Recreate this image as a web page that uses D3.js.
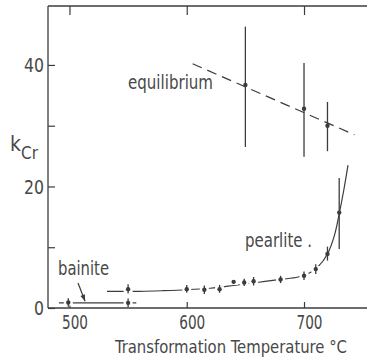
<!DOCTYPE html>
<html><head><meta charset="utf-8">
<script src="https://cdn.jsdelivr.net/npm/d3@7"></script>
<style>
html,body{margin:0;padding:0;background:#fff;}
text{font-family:"DejaVu Sans Condensed","DejaVu Sans",sans-serif;fill:#484848;}
</style></head>
<body><svg id="c" width="367" height="363"></svg>
<script>
// ---- data ----
const xTicks = [500, 600, 700];
const yTicks = [0, 10, 20, 30, 40];
const yTickLabels = [0, 20, 40];

const pearliteT    = [550, 600, 615, 628, 640, 649, 657, 680, 700, 710, 720, 730];
const pearliteK    = [3.1, 3.1, 3.0, 3.1, 4.3, 4.2, 4.4, 4.7, 5.3, 6.4, 8.9, 15.7];
const pearliteLow  = [2.4, 2.5, 2.3, 2.5, 4.3, 3.6, 3.7, 4.1, 4.6, 5.6, 7.8, 9.7];
const pearliteHigh = [3.9, 3.8, 3.7, 3.8, 4.3, 4.8, 5.1, 5.3, 6.0, 7.2, 10.1, 21.4];

const pearliteCurveT = [532, 560, 580, 600, 620, 640, 660, 680, 695, 705, 712, 720, 726, 730, 734, 737.5];
const pearliteCurveK = [2.75, 2.75, 2.85, 3.0, 3.25, 3.7, 4.2, 4.7, 5.1, 5.8, 6.8, 8.9, 12, 15.5, 19.5, 23.5];

const bainiteT = [499, 550];
const bainiteK = [0.9, 0.85];
const bainiteLineT = [491, 557];
const bainiteLineK = [0.85, 0.85];

const equilT    = [650, 700, 720];
const equilK    = [36.7, 32.8, 30.0];
const equilLow  = [26.5, 24.9, 25.8];
const equilHigh = [46.3, 40.3, 33.9];
const equilLineT = [605, 743];
const equilLineK = [40.2, 28.5];

// ---- layout ----
const svg = d3.select("#c");
const ink = "#3c3c3c";
const x = d3.scaleLinear().domain([481.7, 753.7]).range([48, 367]);
const y = d3.scaleLinear().domain([0, 49.7]).range([308, 6]);

// frame: left, top, bottom
svg.append("line").attr("x1", 48).attr("x2", 48).attr("y1", y(49.7)).attr("y2", y(0)).attr("stroke", ink).attr("stroke-width", 1.3);
svg.append("line").attr("x1", 48).attr("x2", 367).attr("y1", y(49.7)).attr("y2", y(49.7)).attr("stroke", ink).attr("stroke-width", 1.3);
svg.append("line").attr("x1", 48).attr("x2", 367).attr("y1", y(0)).attr("y2", y(0)).attr("stroke", ink).attr("stroke-width", 1.3);

// axes with inward ticks
const gBottom = svg.append("g").attr("transform", `translate(0,${y(0)})`)
  .call(d3.axisBottom(x).tickValues(xTicks).tickSizeInner(-6).tickSizeOuter(0).tickPadding(8));
const gTop = svg.append("g").attr("transform", `translate(0,${y(49.7)})`)
  .call(d3.axisTop(x).tickValues(xTicks).tickSizeInner(-9).tickSizeOuter(0).tickFormat(""));
const gLeft = svg.append("g").attr("transform", `translate(48,0)`)
  .call(d3.axisLeft(y).tickValues(yTicks).tickSizeInner(-7).tickSizeOuter(0).tickPadding(4)
    .tickFormat(d => yTickLabels.includes(d) ? d : ""));
[gBottom, gTop, gLeft].forEach(g => {
  g.select(".domain").remove();
  g.selectAll("line").attr("stroke", ink).attr("stroke-width", 1.2);
  g.selectAll("text").attr("font-size", 19).attr("fill", "#484848")
    .style("font-family", '"DejaVu Sans Condensed","DejaVu Sans",sans-serif');
});
gLeft.selectAll("text").attr("dy", "0.36em")
  .attr("textLength", d => String(d).length * 10).attr("lengthAdjust", "spacingAndGlyphs");
gBottom.selectAll("text").attr("dx", 5).attr("dy", "0.71em")
  .attr("textLength", 26).attr("lengthAdjust", "spacingAndGlyphs");

// axis labels
svg.append("text").attr("x", 115).attr("y", 353).attr("font-size", 18)
  .attr("textLength", 232).attr("lengthAdjust", "spacingAndGlyphs")
  .text("Transformation Temperature \u00B0C");
const kl = svg.append("text").attr("x", 10).attr("y", 151).attr("font-size", 21);
kl.append("tspan").text("k");
kl.append("tspan").attr("font-size", 17).attr("dy", 8).text("Cr");

// lines
const line = d3.line().x(d => x(d[0])).y(d => y(d[1]));
svg.append("path").datum(equilLineT.map((t, i) => [t, equilLineK[i]]))
  .attr("d", line).attr("fill", "none").attr("stroke", ink).attr("stroke-width", 1.2)
  .attr("stroke-dasharray", "10,6");
svg.append("path").datum(pearliteCurveT.map((t, i) => [t, pearliteCurveK[i]]))
  .attr("d", d3.line().x(d => x(d[0])).y(d => y(d[1])).curve(d3.curveCatmullRom))
  .attr("fill", "none").attr("stroke", ink).attr("stroke-width", 1.2);
svg.append("path").datum(bainiteLineT.map((t, i) => [t, bainiteLineK[i]]))
  .attr("d", line).attr("fill", "none").attr("stroke", ink).attr("stroke-width", 1.2);

// knockout gaps around low markers
function gaps(ts, ks, n) {
  ts.forEach((t, i) => {
    if (i >= n) return;
    svg.append("rect").attr("x", x(t) - 4.5).attr("y", y(ks[i]) - 3).attr("width", 9).attr("height", 6).attr("fill", "#fff");
  });
}
gaps(pearliteT, pearliteK, 10);
gaps(bainiteT, bainiteK, 2);

// markers with error bars
function markers(ts, ks, lo, hi) {
  ts.forEach((t, i) => {
    if (hi[i] > lo[i]) {
      svg.append("line").attr("x1", x(t)).attr("x2", x(t)).attr("y1", y(lo[i])).attr("y2", y(hi[i]))
        .attr("stroke", ink).attr("stroke-width", 1.3);
    }
    svg.append("circle").attr("cx", x(t)).attr("cy", y(ks[i])).attr("r", 2.2).attr("fill", ink);
  });
}
markers(pearliteT, pearliteK, pearliteLow, pearliteHigh);
markers(equilT, equilK, equilLow, equilHigh);
markers(bainiteT, bainiteK, bainiteK.map(k => k - 0.7), bainiteK.map(k => k + 0.7));

// labels
function label(txt, x0, y0, w) {
  svg.append("text").attr("x", x0).attr("y", y0).attr("font-size", 19)
    .attr("textLength", w).attr("lengthAdjust", "spacingAndGlyphs").text(txt);
}
label("equilibrium", 128, 89, 85);
label("pearlite .", 245, 247, 67);
label("bainite", 58, 275, 51);

// arrow
const a0 = [507.3, 4.1], a1 = [513.3, 1.1];
svg.append("line").attr("x1", x(a0[0])).attr("y1", y(a0[1])).attr("x2", x(a1[0])).attr("y2", y(a1[1]))
  .attr("stroke", ink).attr("stroke-width", 1.2);
const ang = Math.atan2(y(a1[1]) - y(a0[1]), x(a1[0]) - x(a0[0]));
const hx = x(a1[0]), hy = y(a1[1]);
const pts = [[hx, hy],
  [hx - 7 * Math.cos(ang - 0.35), hy - 7 * Math.sin(ang - 0.35)],
  [hx - 7 * Math.cos(ang + 0.35), hy - 7 * Math.sin(ang + 0.35)]];
svg.append("polygon").attr("points", pts.map(p => p.join(",")).join(" ")).attr("fill", ink);
</script></body></html>
